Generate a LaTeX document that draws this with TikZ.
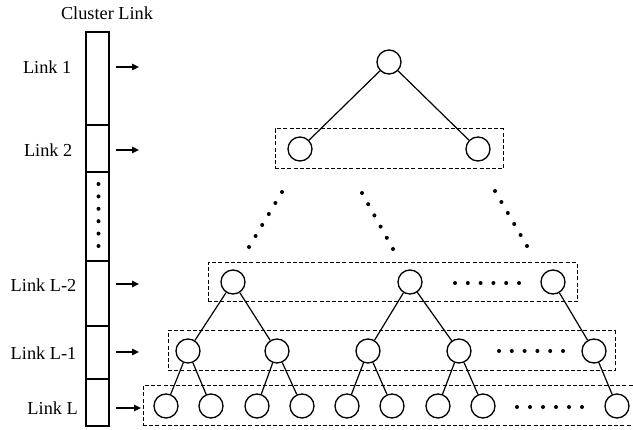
\documentclass[tikz,border=0pt]{standalone}
\usepackage{fontspec}
\setmainfont{Liberation Serif}
\usetikzlibrary{arrows.meta,calc}
\begin{document}
\begin{tikzpicture}[x=1pt,y=-1pt,
  vert/.style={circle,draw,line width=1.35pt,minimum size=24pt,inner sep=0pt},
  edge/.style={line width=1.2pt},
  levelbox/.style={draw,dash pattern=on 4pt off 2.2pt,line width=1pt,inner sep=0pt},
  cell/.style={draw,line width=1.3pt,minimum width=23pt,inner sep=0pt},
  ptr/.style={-{Triangle[length=7pt,width=6.5pt]},line width=1.3pt},
  lbl/.style={font=\fontsize{18.3}{20}\selectfont,inner sep=0pt},
  bead/.style={fill=black}]
\useasboundingbox (0,0) rectangle (633,430);
\clip (0,0) rectangle (633,430);

% ---- cluster link column ----
\node[lbl] (title) at (107,13.5) {Cluster Link};
\node[cell,minimum height=93pt] (seg1) at (97.5,78.5) {};
\node[cell,minimum height=47pt] (seg2) at (97.5,148.5) {};
\node[cell,minimum height=89pt] (segdots) at (97.5,216.5) {};
\node[cell,minimum height=65pt] (segL2) at (97.5,293.5) {};
\node[cell,minimum height=53pt] (segL1) at (97.5,352.5) {};
\node[cell,minimum height=47pt] (segL) at (97.5,402.5) {};
\foreach \y in {184,196.4,208.8,221.2,233.6,246} \fill[bead] (98.5,\y) circle (2);

\node[lbl,anchor=east] (t1) at (71.5,67) {Link 1};
\node[lbl,anchor=east] (t2) at (72.5,150) {Link 2};
\node[lbl,anchor=east] (tL2) at (76.5,285) {Link L-2};
\node[lbl,anchor=east] (tL1) at (76.5,353) {Link L-1};
\node[lbl,anchor=east] (tL) at (78,408) {Link L};

\coordinate (a1s) at (116,67);  \coordinate (a1e) at (139,67);
\coordinate (a2s) at (116,150); \coordinate (a2e) at (139,150);
\coordinate (a3s) at (116,284); \coordinate (a3e) at (139,284);
\coordinate (a4s) at (116,352); \coordinate (a4e) at (139,352);
\coordinate (a5s) at (116,408); \coordinate (a5e) at (141,408);
\foreach \k in {1,...,5} \draw[ptr] (a\k s) -- (a\k e);

% ---- level boxes ----
\node[levelbox,minimum width=228pt,minimum height=40pt] (box2) at (389,149) {};
\node[levelbox,minimum width=369pt,minimum height=39pt] (boxL2) at (392.5,282.5) {};
\node[levelbox,minimum width=447pt,minimum height=40pt] (boxL1) at (391.5,351) {};
\node[levelbox,minimum width=510pt,minimum height=40pt] (boxL) at (398,406) {};

% ---- tree top ----
\node[vert] (r) at (389,62) {};
\node[vert] (b1) at (300,149) {};
\node[vert] (b2) at (478,149) {};
\draw[edge] (r) -- (b1);
\draw[edge] (r) -- (b2);

% elided middle levels
\coordinate (d1s) at (282,192); \coordinate (d1e) at (249,247);
\coordinate (d2s) at (362,193); \coordinate (d2e) at (393,249);
\coordinate (d3s) at (495,191); \coordinate (d3e) at (527,246);
\foreach \k in {1,2,3}
  \foreach \i in {0,...,5}
    \fill[bead] ($(d\k s)!\i/5!(d\k e)$) circle (2);

% ---- level L-2 ----
\node[vert] (m1) at (233,282) {};
\node[vert] (m2) at (410,282) {};
\node[vert] (m3) at (553,282) {};
\foreach \x in {455,467.8,480.6,493.4,506.2,519} \fill[bead] (\x,283) circle (2);

% ---- level L-1 ----
\node[vert] (n1) at (188,351) {};
\node[vert] (n2) at (277,351) {};
\node[vert] (n3) at (368,351) {};
\node[vert] (n4) at (459,351) {};
\node[vert] (n5) at (594,351) {};
\foreach \x in {499,511.8,524.6,537.4,550.2,563} \fill[bead] (\x,351) circle (2);

% ---- level L ----
\node[vert] (l1) at (166,406) {};
\node[vert] (l2) at (211,406) {};
\node[vert] (l3) at (257,406) {};
\node[vert] (l4) at (302,406) {};
\node[vert] (l5) at (347,406) {};
\node[vert] (l6) at (392,406) {};
\node[vert] (l7) at (438,406) {};
\node[vert] (l8) at (483,406) {};
\node[vert] (l9) at (617,406) {};
\foreach \x in {517,530,543,556,569,582} \fill[bead] (\x,407) circle (2);

% ---- tree edges ----
\draw[edge] (m1) -- (n1);  \draw[edge] (m1) -- (n2);
\draw[edge] (m2) -- (n3);  \draw[edge] (m2) -- (n4);
\draw[edge] (m3) -- (n5);
\draw[edge] (n1) -- (l1);  \draw[edge] (n1) -- (l2);
\draw[edge] (n2) -- (l3);  \draw[edge] (n2) -- (l4);
\draw[edge] (n3) -- (l5);  \draw[edge] (n3) -- (l6);
\draw[edge] (n4) -- (l7);  \draw[edge] (n4) -- (l8);
\draw[edge] (n5) -- (l9);
\end{tikzpicture}
\end{document}
